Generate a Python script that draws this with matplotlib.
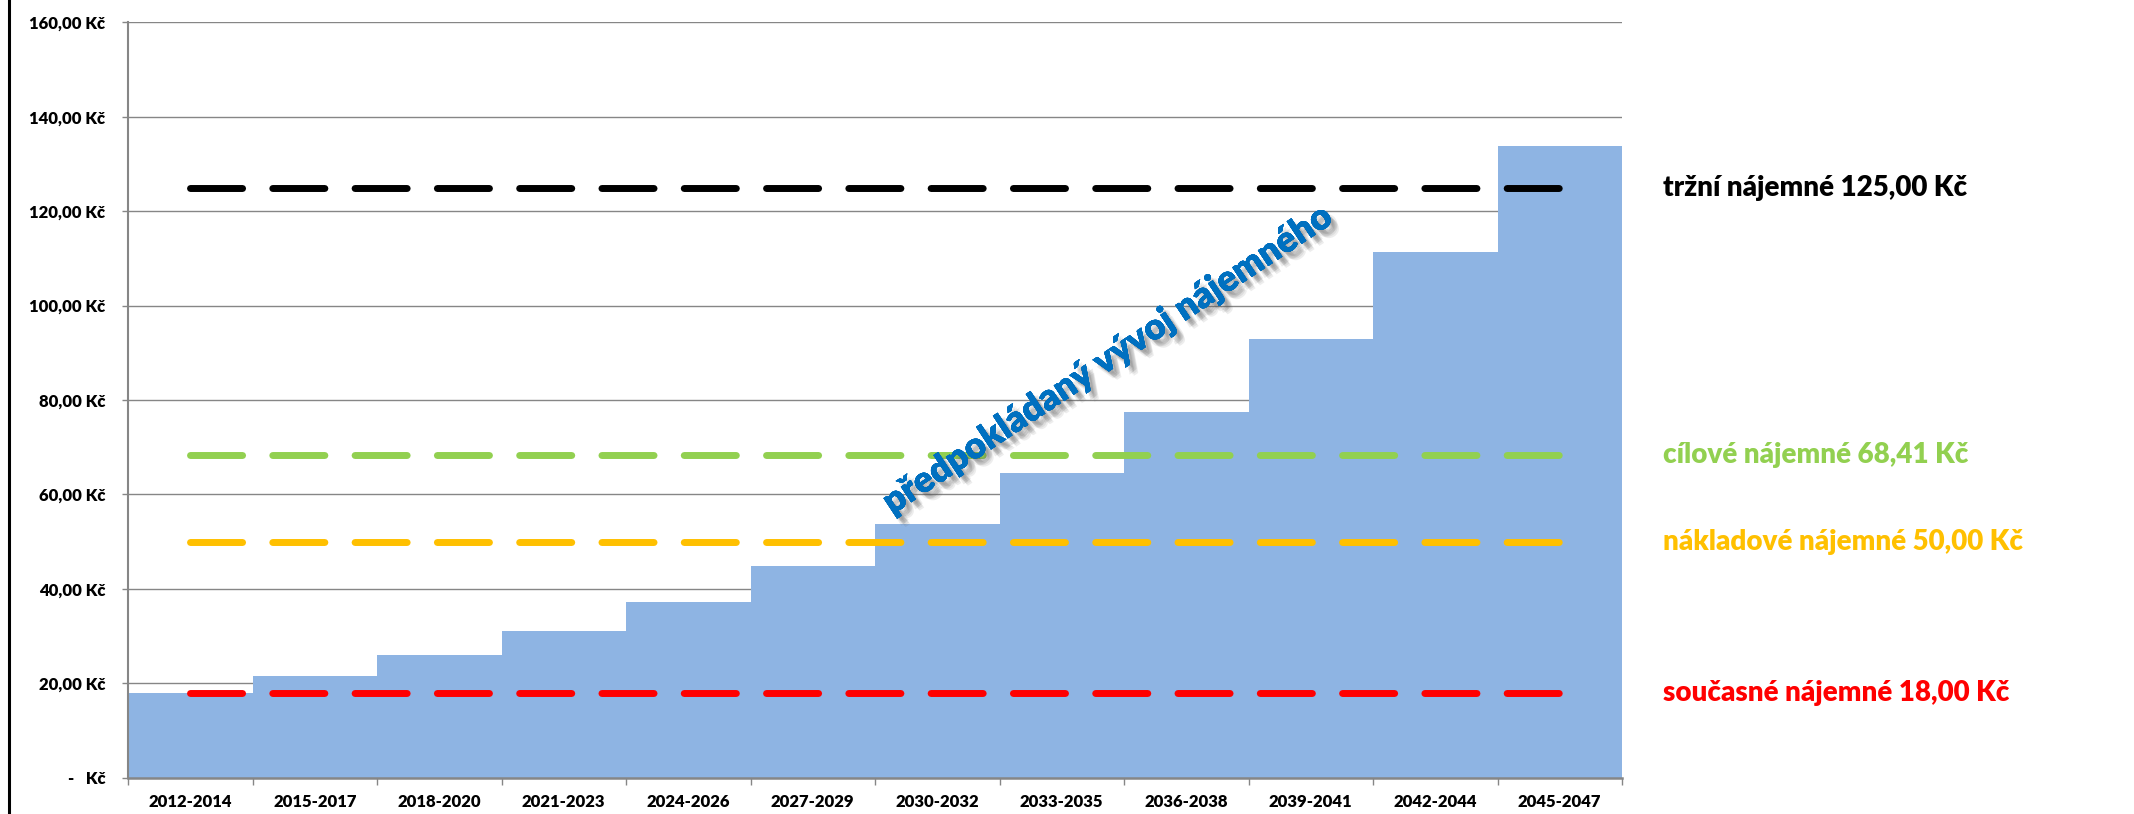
import matplotlib
matplotlib.use('Agg')
import matplotlib.pyplot as plt
import matplotlib.patheffects as pe
import matplotlib.transforms as mtransforms
from matplotlib.lines import Line2D

# Data
periods = ['2012-2014', '2015-2017', '2018-2020', '2021-2023', '2024-2026', '2027-2029',
           '2030-2032', '2033-2035', '2036-2038', '2039-2041', '2042-2044', '2045-2047']
expected_rent = [18.00, 21.60, 25.92, 31.10, 37.32, 44.79, 53.75, 64.50, 77.40, 92.88, 111.45, 133.74]

level_names = ['tržní nájemné', 'cílové nájemné', 'nákladové nájemné', 'současné nájemné']
level_values = [125.00, 68.41, 50.00, 18.00]
level_colors = ['#000000', '#92D050', '#FFC000', '#FF0000']

y_ticks = [0, 20, 40, 60, 80, 100, 120, 140, 160]
y_tick_labels = ['-   Kč', '20,00 Kč', '40,00 Kč', '60,00 Kč', '80,00 Kč', '100,00 Kč',
                 '120,00 Kč', '140,00 Kč', '160,00 Kč']
trend_label = 'předpokládaný vývoj nájemného'

plt.rcParams['font.family'] = ['Lato', 'DejaVu Sans']

W, H = 2134, 814
fig = plt.figure(figsize=(W / 100, H / 100), dpi=100)
ax = fig.add_axes([128 / W, (H - 777.7) / H, (1622 - 128) / W, (777.7 - 22.3) / H])

grid_color = '#868686'
x = list(range(len(periods)))

# stepped "area" made of touching bars
ax.bar(x, expected_rent, width=1.0, color='#8EB4E3', linewidth=0, zorder=2)

# horizontal reference levels, labels placed at a fixed pixel column right of the plot
label_tr = mtransforms.blended_transform_factory(mtransforms.IdentityTransform(), ax.transData)
for name, value, color in zip(level_names, level_values, level_colors):
    ax.plot([x[0], x[-1]], [value, value], color=color, lw=5,
            dashes=(7.5, 4.35), dash_capstyle='round', zorder=3)
    label = f'{name} {value:.2f} Kč'.replace('.', ',')
    ax.text(1663, value, label, transform=label_tr, color=color, clip_on=False,
            fontsize=20, fontweight='heavy', va='center', ha='left')

# diagonal annotation with a soft shadow
shadow = [pe.withSimplePatchShadow(offset=(dx, -dy), shadow_rgbFace='#555555', alpha=0.10)
          for dx, dy in [(2, 2), (3, 3), (4, 4), (5, 5), (6, 6), (3, 5), (5, 3)]]
ax.text(7.37, 88.5, trend_label, color='#0070C0', fontsize=26, fontweight='heavy',
        rotation=33.5, rotation_mode='anchor', ha='center', va='center', zorder=5,
        path_effects=shadow + [pe.Normal()])

ax.set_xlim(-0.5, len(periods) - 0.5)
ax.set_ylim(0, 160)
ax.set_yticks(y_ticks)
ax.set_yticklabels(y_tick_labels, fontsize=12, fontweight='heavy')
ax.yaxis.grid(True, color=grid_color, lw=1.0, zorder=0)
ax.set_axisbelow(True)

ax.set_xticks([i - 0.5 for i in range(len(periods) + 1)])
ax.set_xticklabels([])
ax.set_xticks(x, minor=True)
ax.set_xticklabels(periods, minor=True, fontsize=12, fontweight='heavy')
ax.tick_params(axis='x', which='major', length=5, color=grid_color, width=1)
ax.tick_params(axis='x', which='minor', length=0, pad=12)
ax.tick_params(axis='y', length=4.3, color=grid_color, width=1, pad=12)

for side in ['top', 'right']:
    ax.spines[side].set_visible(False)
ax.spines['left'].set_color(grid_color)
ax.spines['left'].set_linewidth(1.5)
ax.spines['bottom'].set_color(grid_color)
ax.spines['bottom'].set_linewidth(1.8)
ax.spines['bottom'].set_zorder(4)

# left border of the original chart frame
fig.add_artist(Line2D([8.5 / W, 8.5 / W], [0, 1], transform=fig.transFigure,
                      color='black', lw=2.2))

fig.savefig('out.png', dpi=100)
